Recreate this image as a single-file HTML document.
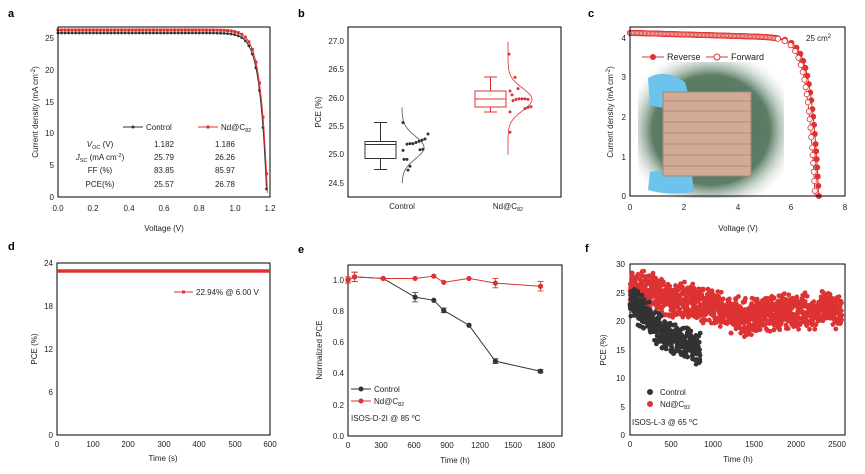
<!DOCTYPE html>
<html><head><meta charset="utf-8"><style>
body{margin:0;background:#fff}
svg{display:block;font-family:"Liberation Sans",Arial,sans-serif}
text{font-size:8px;fill:#222}
.t{text-anchor:middle}.r{text-anchor:end}
.L{font-size:11px;font-weight:bold;fill:#000}
.ax{fill:none;stroke:#000;stroke-width:1}
</style></head><body>
<svg id="s" width="865" height="474" viewBox="0 0 865 474" xmlns="http://www.w3.org/2000/svg">
<defs>
<radialGradient id="pg" cx="50%" cy="50%" r="62%">
<stop offset="0" stop-color="#4a6b55"/><stop offset="0.65" stop-color="#5c7d66"/><stop offset="1" stop-color="#fff" stop-opacity="0"/>
</radialGradient>
</defs>
<text x="8" y="17" class="L">a</text><text x="298" y="17" class="L">b</text><text x="588" y="17" class="L">c</text>
<text x="8" y="250" class="L">d</text><text x="298" y="253" class="L">e</text><text x="585" y="252" class="L">f</text>

<!-- a -->
<g id="ga"></g>
<rect x="58" y="27" width="212" height="170" class="ax"/>
<g class="r"><text x="54" y="41">25</text><text x="54" y="73">20</text><text x="54" y="105">15</text><text x="54" y="136">10</text><text x="54" y="168">5</text><text x="54" y="200">0</text></g>
<g class="t"><text x="58" y="211">0.0</text><text x="93" y="211">0.2</text><text x="129" y="211">0.4</text><text x="164" y="211">0.6</text><text x="199" y="211">0.8</text><text x="235" y="211">1.0</text><text x="270" y="211">1.2</text>
<text x="164" y="231">Voltage (V)</text></g>
<text transform="translate(38,112) rotate(-90)" class="t">Current density (mA cm<tspan dy="-3" font-size="6">-2</tspan><tspan dy="3">)</tspan></text>
<line x1="123" y1="127" x2="143" y2="127" stroke="#333"/><circle cx="133" cy="127" r="1.5" fill="#333"/><text x="146" y="130">Control</text>
<line x1="198" y1="127" x2="218" y2="127" stroke="#d33"/><rect x="206.5" y="125.5" width="3" height="3" fill="#d33"/><text x="221" y="130">Nd@C<tspan font-size="5.5" dy="2">82</tspan></text>
<g class="t">
<text x="100" y="147"><tspan font-style="italic">V</tspan><tspan font-size="5.5" dy="2">OC</tspan><tspan dy="-2"> (V)</tspan></text><text x="164" y="147">1.182</text><text x="225" y="147">1.186</text>
<text x="100" y="160"><tspan font-style="italic">J</tspan><tspan font-size="5.5" dy="2">SC</tspan><tspan dy="-2"> (mA cm</tspan><tspan font-size="5.5" dy="-3">-2</tspan><tspan dy="3">)</tspan></text><text x="164" y="160">25.79</text><text x="225" y="160">26.26</text>
<text x="100" y="173">FF (%)</text><text x="164" y="173">83.85</text><text x="225" y="173">85.97</text>
<text x="100" y="187">PCE(%)</text><text x="164" y="187">25.57</text><text x="225" y="187">26.78</text>
</g>

<!-- b -->
<rect x="348" y="27" width="213" height="170" class="ax"/>
<g class="r"><text x="344" y="44">27.0</text><text x="344" y="72">26.5</text><text x="344" y="101">26.0</text><text x="344" y="129">25.5</text><text x="344" y="157">25.0</text><text x="344" y="186">24.5</text></g>
<text transform="translate(321,112) rotate(-90)" class="t">PCE (%)</text>
<g class="t"><text x="402" y="209">Control</text><text x="508" y="209">Nd@C<tspan font-size="5.5" dy="2">82</tspan></text></g>
<g fill="none" stroke="#333">
<rect x="365" y="141.5" width="31" height="17"/><line x1="365" y1="144.5" x2="396" y2="144.5"/>
<line x1="380.5" y1="122.5" x2="380.5" y2="141.5"/><line x1="380.5" y1="158.5" x2="380.5" y2="169.5"/>
<line x1="374" y1="122.5" x2="387" y2="122.5"/><line x1="374" y1="169.5" x2="387" y2="169.5"/>
</g>
<g fill="none" stroke="#d33">
<rect x="475" y="91" width="31" height="16"/><line x1="475" y1="99" x2="506" y2="99"/>
<line x1="490.5" y1="77" x2="490.5" y2="91"/><line x1="490.5" y1="107" x2="490.5" y2="112"/>
<line x1="484" y1="77" x2="497" y2="77"/><line x1="484" y1="112" x2="497" y2="112"/>
</g>
<g id="gb"></g>

<!-- c -->
<rect x="638" y="62" width="146" height="136" fill="url(#pg)"/>
<path d="M648 78 Q665 68 685 82 L690 100 Q670 112 650 105 Z" fill="#6cc3ec"/>
<path d="M650 172 Q672 168 692 176 L694 192 Q668 196 648 190 Z" fill="#6cc3ec"/>
<rect x="663" y="92" width="88" height="84" fill="#d3ab95" stroke="#9d8a7c"/>
<g stroke="#8a7266" stroke-width="0.6"><line x1="663" y1="101" x2="751" y2="101"/><line x1="663" y1="111" x2="751" y2="111"/><line x1="663" y1="122" x2="751" y2="122"/><line x1="663" y1="133" x2="751" y2="133"/><line x1="663" y1="144" x2="751" y2="144"/><line x1="663" y1="155" x2="751" y2="155"/><line x1="663" y1="166" x2="751" y2="166"/></g>
<g id="gc"></g>
<rect x="630" y="27" width="215" height="169" class="ax"/>
<g class="r"><text x="626" y="41">4</text><text x="626" y="80">3</text><text x="626" y="120">2</text><text x="626" y="160">1</text><text x="626" y="199">0</text></g>
<g class="t"><text x="630" y="210">0</text><text x="684" y="210">2</text><text x="738" y="210">4</text><text x="791" y="210">6</text><text x="845" y="210">8</text><text x="738" y="231">Voltage (V)</text></g>
<text transform="translate(613,112) rotate(-90)" class="t">Current density (mA cm<tspan dy="-3" font-size="6">-2</tspan><tspan dy="3">)</tspan></text>
<text x="806" y="41">25 cm<tspan dy="-3" font-size="6">2</tspan></text>
<line x1="642" y1="57" x2="664" y2="57" stroke="#d33"/><circle cx="653" cy="57" r="3" fill="#d33"/><text x="667" y="60" style="font-size:9px">Reverse</text>
<line x1="706" y1="57" x2="728" y2="57" stroke="#d33"/><circle cx="717" cy="57" r="3" fill="#fff" stroke="#d33"/><text x="731" y="60" style="font-size:9px">Forward</text>

<!-- d -->
<rect x="57" y="263" width="213" height="172" class="ax"/>
<line x1="57" y1="271" x2="270" y2="271" stroke="#d33" stroke-width="3.5"/>
<g class="r"><text x="53" y="266">24</text><text x="53" y="309">18</text><text x="53" y="352">12</text><text x="53" y="395">6</text><text x="53" y="438">0</text></g>
<g class="t"><text x="57" y="447">0</text><text x="93" y="447">100</text><text x="128" y="447">200</text><text x="164" y="447">300</text><text x="199" y="447">400</text><text x="235" y="447">500</text><text x="270" y="447">600</text><text x="163" y="461">Time (s)</text></g>
<text transform="translate(37,349) rotate(-90)" class="t">PCE (%)</text>
<line x1="174" y1="292" x2="193" y2="292" stroke="#d33"/><rect x="182" y="290.5" width="3" height="3" fill="#d33"/><text x="196" y="295">22.94% @ 6.00 V</text>

<!-- e -->
<rect x="348" y="265" width="214" height="171" class="ax"/>
<g class="r"><text x="344" y="283">1.0</text><text x="344" y="314">0.8</text><text x="344" y="345">0.6</text><text x="344" y="376">0.4</text><text x="344" y="408">0.2</text><text x="344" y="439">0.0</text></g>
<g class="t"><text x="348" y="448">0</text><text x="381" y="448">300</text><text x="414" y="448">600</text><text x="447" y="448">900</text><text x="480" y="448">1200</text><text x="513" y="448">1500</text><text x="546" y="448">1800</text><text x="455" y="463">Time (h)</text></g>
<text transform="translate(322,350) rotate(-90)" class="t">Normalized PCE</text>
<g id="ge"></g>
<line x1="351" y1="389" x2="371" y2="389" stroke="#333"/><circle cx="361" cy="389" r="2.5" fill="#333"/><text x="374" y="392">Control</text>
<line x1="351" y1="401" x2="371" y2="401" stroke="#d33"/><circle cx="361" cy="401" r="2.5" fill="#d33"/><text x="374" y="404">Nd@C<tspan font-size="5.5" dy="2">82</tspan></text>
<text x="351" y="421">ISOS-D-2I @ 85 <tspan font-size="5.5" dy="-3">o</tspan><tspan dy="3">C</tspan></text>

<!-- f -->
<rect x="630" y="264" width="215" height="171" class="ax"/>
<g id="gf"></g>
<g class="r"><text x="625" y="267">30</text><text x="625" y="296">25</text><text x="625" y="324">20</text><text x="625" y="353">15</text><text x="625" y="381">10</text><text x="625" y="410">5</text><text x="625" y="438">0</text></g>
<g class="t"><text x="630" y="447">0</text><text x="671" y="447">500</text><text x="713" y="447">1000</text><text x="754" y="447">1500</text><text x="796" y="447">2000</text><text x="837" y="447">2500</text><text x="738" y="462">Time (h)</text></g>
<text transform="translate(606,350) rotate(-90)" class="t">PCE (%)</text>
<circle cx="650" cy="392" r="3" fill="#333"/><text x="660" y="395">Control</text>
<circle cx="650" cy="404" r="3" fill="#d33"/><text x="660" y="407">Nd@C<tspan font-size="5.5" dy="2">82</tspan></text>
<text x="632" y="425">ISOS-L-3 @ 65 <tspan font-size="5.5" dy="-3">o</tspan><tspan dy="3">C</tspan></text>
</svg>
<script>
var NS="http://www.w3.org/2000/svg";
function el(g,t,a){var e=document.createElementNS(NS,t);for(var k in a)e.setAttribute(k,a[k]);document.getElementById(g).appendChild(e);return e;}
var R="#d33",K="#333";
function jv(V,jsc,voc,n){return jsc*(1-Math.exp((V-voc)/n))/(1-Math.exp(-voc/n));}
[[25.79,1.182,K,0],[26.26,1.186,R,1]].forEach(function(c){var p="";for(var V=0;V<=c[1];V+=0.005){var x=58+V*176.7,y=197-jv(V,c[0],c[1],0.04)*6.36;p+=(p?"L":"M")+x.toFixed(1)+" "+y.toFixed(1);}
el("ga","path",{d:p,fill:"none",stroke:c[2],"stroke-width":1});
for(var V=0;V<=c[1];V+=0.02){var j=jv(V,c[0],c[1],0.04);var x=58+V*176.7,y=197-j*6.36;if(c[3])el("ga","rect",{x:x-1.5,y:y-1.5,width:3,height:3,fill:c[2]});else el("ga","circle",{cx:x,cy:y,r:1.4,fill:c[2]});}});
function yb(v){return 41.7+(27-v)*56.6;}
function gauss(g,x0,mu,sd,lo,hi,amp,col){var p="";for(var v=lo;v<=hi;v+=0.02){var x=x0+amp*Math.exp(-Math.pow((v-mu)/sd,2)/2);p+=(p?"L":"M")+x.toFixed(1)+" "+yb(v).toFixed(1);}el(g,"path",{d:p,fill:"none",stroke:col,"stroke-width":0.8});}
gauss("gb",402,25.13,0.2,24.5,25.85,22,"#555");gauss("gb",508,25.98,0.2,25.0,27.0,24,R);
[[403,25.57],[407,25.19],[410,25.2],[413,25.2],[416,25.22],[419,25.24],[422,25.26],[425,25.28],[428,25.37],[403,25.08],[404,24.92],[407,24.92],[410,24.8],[408,24.73],[420,25.09],[423,25.1]].forEach(function(d){el("gb","circle",{cx:d[0],cy:yb(d[1]),r:1.5,fill:K});});
[[509,26.78],[515,26.37],[518,26.17],[510,26.13],[512,26.06],[513,25.96],[516,25.98],[519,25.99],[522,25.99],[525,25.99],[528,25.98],[510,25.76],[525,25.82],[528,25.84],[531,25.85],[510,25.4]].forEach(function(d){el("gb","circle",{cx:d[0],cy:yb(d[1]),r:1.5,fill:R});});
function jc(V,voc){return (4.12-0.02*V)*(1-Math.exp((V-voc)/0.3));}
[[7.02,1],[6.88,0]].forEach(function(c){var p="";for(var V=0;V<=c[0];V+=0.02){p+=(p?"L":"M")+(630+V*26.9).toFixed(1)+" "+(196-jc(V,c[0])*39.6).toFixed(1);}
el("gc","path",{d:p,fill:"none",stroke:R,"stroke-width":1});
var lx=-99,ly=-99;for(var V=0;V<=c[0];V+=0.01){var x=630+V*26.9,y=196-jc(V,c[0])*39.6;var d=Math.hypot(x-lx,y-ly);if(V>5.5?d<7:d<1.3)continue;lx=x;ly=y;el("gc","circle",{cx:x,cy:y,r:2.6,fill:c[1]?R:"#fff",stroke:R,"stroke-width":0.8});}});
function pe(t,v){return [348+t*0.11,436-v*156];}
function line(data,col){var p="";data.forEach(function(d){var q=pe(d[0],d[1]);p+=(p?"L":"M")+q[0]+" "+q[1];});el("ge","path",{d:p,fill:"none",stroke:col,"stroke-width":1});
data.forEach(function(d){var q=pe(d[0],d[1]);if(d[2]){var e=d[2]*156;el("ge","path",{d:"M"+q[0]+" "+(q[1]-e)+"V"+(q[1]+e)+"M"+(q[0]-3)+" "+(q[1]-e)+"h6M"+(q[0]-3)+" "+(q[1]+e)+"h6",stroke:col,fill:"none","stroke-width":0.8});}el("ge","circle",{cx:q[0],cy:q[1],r:2.6,fill:col});});}
line([[0,1,0.02],[60,1.02,0.03],[320,1.01,0],[610,0.89,0.03],[780,0.87,0],[870,0.805,0.015],[1100,0.71,0],[1340,0.48,0.015],[1750,0.415,0.01]],K);
line([[0,1,0.02],[60,1.02,0.03],[320,1.01,0],[610,1.01,0],[780,1.025,0],[870,0.985,0],[1100,1.01,0],[1340,0.98,0.03],[1750,0.96,0.03]],R);
var seed=7;function rnd(){seed=(seed*16807)%2147483647;return seed/2147483647;}
function pf(t,v){return [630+t*0.0828,435-v*5.7];}
function interp(pts,t){for(var i=1;i<pts.length;i++)if(t<=pts[i][0]){var a=pts[i-1],b=pts[i];return a[1]+(b[1]-a[1])*(t-a[0])/(b[0]-a[0]);}return pts[pts.length-1][1];}
var rp=[[0,25.5],[300,25],[500,23.5],[800,23.5],[1000,22.5],[1200,21],[1400,20.5],[1700,21.3],[2000,21.7],[2560,22]];
for(var t=0;t<2560;t+=2){var n=(rnd()+rnd()-1)*3.6;var q=pf(t,interp(rp,t)+n);el("gf","circle",{cx:q[0],cy:q[1],r:2.4,fill:R});}
var kp=[[0,23.5],[200,21],[400,17.5],[600,16.8],[850,15]];
for(var t=0;t<850;t+=2){var n=(rnd()+rnd()-1)*3.2;var q=pf(t,interp(kp,t)+n);el("gf","circle",{cx:q[0],cy:q[1],r:2.4,fill:K});}
</script>
</body></html>
